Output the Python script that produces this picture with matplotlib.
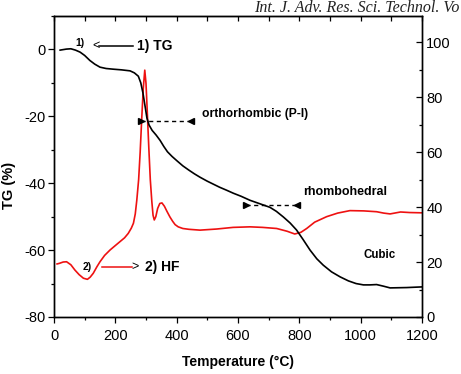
import matplotlib
matplotlib.use("Agg")
import matplotlib.pyplot as plt
from matplotlib.ticker import MultipleLocator

plt.rcParams['font.family'] = ['Liberation Sans', 'DejaVu Sans']
plt.rcParams['axes.unicode_minus'] = False

# TG curve (left axis, %)
tg_x = [20, 40, 55, 70, 85, 100, 117, 133, 150, 170, 193, 220, 248, 262, 275, 283, 290,
        297, 303, 310, 320, 333, 346, 358, 370, 385, 401, 420, 440, 458, 476, 500, 520,
        540, 563, 585, 610, 639, 670, 704, 725, 748, 770, 791, 812, 835, 857, 878, 905,
        933, 960, 985, 1009, 1030, 1052, 1075, 1096, 1150, 1200]
tg_y = [-0.2, 0.1, 0.2, -0.2, -0.8, -1.8, -3.3, -4.4, -5.3, -5.7, -5.9, -6.1, -6.4, -7.0,
        -8.0, -10.0, -13.0, -17.0, -20.5, -22.6, -24.2, -25.6, -27.2, -29.0, -30.6, -32.0,
        -33.3, -34.8, -36.1, -37.2, -38.2, -39.4, -40.3, -41.2, -42.1, -43.0, -43.9, -45.1,
        -46.1, -47.2, -48.4, -50.1, -51.9, -54.0, -56.8, -60.0, -62.6, -64.5, -66.5, -68.0,
        -69.2, -70.0, -70.4, -70.4, -70.3, -70.8, -71.3, -71.2, -71.0]

# HF curve (right axis)
hf_x = [10, 17, 30, 41, 55, 68, 82, 96, 109, 118, 128, 140, 150, 165, 183, 200, 215, 230,
        242, 252, 259, 265, 270, 276, 281, 286, 291, 296, 300, 304, 309, 314, 319, 323,
        327, 332, 338, 345, 352, 360, 368, 378, 387, 395, 405, 420, 440, 476, 530, 584,
        639, 680, 726, 760, 785, 805, 824, 850, 889, 925, 965, 1010, 1052, 1075, 1096,
        1130, 1160, 1200]
hf_y = [19.3, 19.5, 20.0, 20.1, 19.0, 17.1, 15.4, 14.1, 13.7, 14.5, 15.9, 18.3, 20.1, 22.4,
        24.4, 26.0, 27.4, 28.8, 30.4, 32.3, 34.1, 37.5, 42.5, 50.0, 60.0, 72.0, 83.0, 89.8,
        85.0, 75.0, 62.0, 50.0, 42.0, 37.0, 35.3, 36.5, 39.5, 41.3, 41.5, 40.3, 38.5, 36.4,
        34.8, 33.6, 32.8, 32.2, 31.9, 31.6, 32.0, 32.6, 32.8, 32.6, 32.2, 31.2, 30.2, 30.8,
        32.2, 34.5, 36.5, 37.8, 38.7, 38.6, 38.3, 37.8, 37.5, 38.2, 38.0, 37.9]

x_ticks = [0, 200, 400, 600, 800, 1000, 1200]
tg_ticks = [-80, -60, -40, -20, 0]
hf_ticks = [0, 20, 40, 60, 80, 100]

fig = plt.figure(figsize=(4.61, 3.74), dpi=100)
ax = fig.add_axes([54/461, 1-317/374, (422-54)/461, (317-16)/374])
ax2 = ax.twinx()
ax.set_zorder(ax2.get_zorder() + 1)
ax.patch.set_visible(False)

ax2.plot(hf_x, hf_y, color='#ee1111', lw=1.2)
ax.plot(tg_x, tg_y, color='black', lw=1.2)

ax.set_xlim(0, 1200)
ax.set_ylim(-80, 10)
ax2.set_ylim(0, 109.5)

ax.set_xticks(x_ticks)
ax.xaxis.set_minor_locator(MultipleLocator(100))
ax.set_yticks(tg_ticks)
ax.yaxis.set_minor_locator(MultipleLocator(10))
ax2.set_yticks(hf_ticks)
ax2.yaxis.set_minor_locator(MultipleLocator(10))

ax.tick_params(axis='both', which='major', direction='out', length=4, labelsize=10.5,
               width=0.9, pad=2)
ax.tick_params(axis='x', which='major', pad=5)
ax.tick_params(axis='both', which='minor', direction='out', length=2.5, width=0.9)
ax.tick_params(axis='x', top=False)
ax2.tick_params(axis='y', which='major', direction='in', length=4, labelsize=10.5, width=0.9, pad=3)
ax2.tick_params(axis='y', which='minor', direction='in', length=2.5, width=0.9)

top = ax.secondary_xaxis('top')
top.set_xticks(list(range(0, 1201, 100)))
top.tick_params(direction='in', length=3.5, labeltop=False, width=0.9)

for a in (ax, ax2):
    for s in a.spines.values():
        s.set_linewidth(1.0)

ax.set_xlabel('Temperature (°C)', fontsize=10, fontweight='bold', labelpad=8)
fig.text(9/461, 1-185/374, 'TG (%)', rotation=90, fontsize=10.5, fontweight='bold',
         ha='center', va='center')

# annotations
ax.text(85, 1.8, '1)', fontsize=7.5, fontweight='bold', ha='center', va='center')
ax.text(137, 0.9, '<', fontsize=9, ha='center', va='center')
ax.plot([148, 258], [0.9, 0.9], color='black', lw=1.1)
ax.text(272, 0.9, '1) TG', fontsize=10, fontweight='bold', ha='left', va='center')

ax.text(108, -65.1, '2)', fontsize=7.5, fontweight='bold', ha='center', va='center')
ax.plot([157, 254], [-65.1, -65.1], color='#ee1111', lw=1.1)
ax.text(264, -65.1, '>', fontsize=9, ha='center', va='center')
ax.text(298, -65.1, '2) HF', fontsize=10, fontweight='bold', ha='left', va='center')

ax.plot([284, 446], [-21.5, -21.5], color='black', lw=1.0, ls=(0, (3, 2.5)))
ax.plot([284], [-21.5], marker='>', color='black', ms=4)
ax.plot([446], [-21.5], marker='<', color='black', ms=4)
ax.text(483, -19.4, 'orthorhombic (P-I)', fontsize=8.7, fontweight='bold', ha='left', va='center')

ax.plot([627, 792], [-46.6, -46.6], color='black', lw=1.0, ls=(0, (3, 2.5)))
ax.plot([627], [-46.6], marker='>', color='black', ms=4)
ax.plot([792], [-46.6], marker='<', color='black', ms=4)
ax.text(812, -42.7, 'rhombohedral', fontsize=9, fontweight='bold', ha='left', va='center')

ax.text(1008, -61.5, 'Cubic', fontsize=8.3, fontweight='bold', ha='left', va='center')

fig.text(459/461, 1-0.5/374, 'Int. J. Adv. Res. Sci. Technol. Vo', fontsize=11.5,
         style='italic', family='Liberation Serif', ha='right', va='top', color='#222222')

fig.savefig('out.png', dpi=100)
